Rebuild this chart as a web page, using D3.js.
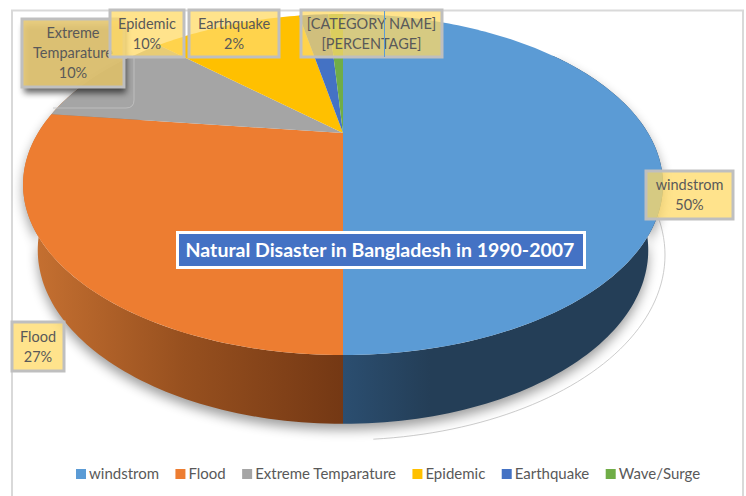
<!DOCTYPE html>
<html>
<head>
<meta charset="utf-8">
<script src="https://cdn.jsdelivr.net/npm/d3@7"></script>
<style>
html,body{margin:0;padding:0;background:#fff;}
svg{display:block;}
text{font-family:Lato,"Open Sans",sans-serif;}
</style>
</head>
<body>
<div id="canvas"></div>
<script>
var width = 746;
var height = 496;

var categories = ["windstrom","Flood","Extreme Temparature","Epidemic","Earthquake","Wave/Surge"];
var values = [50,27,10,10,2,1];
var colors = ["#5B9BD5","#ED7D31","#A5A5A5","#FFC000","#4472C4","#70AD47"];
var titleText = "Natural Disaster in Bangladesh in 1990-2007";

var labelLines = [
	["windstrom","50%"],
	["Flood","27%"],
	["Extreme","Temparature","10%"],
	["Epidemic","10%"],
	["Earthquake","2%"],
	["[CATEGORY NAME]","[PERCENTAGE]"]
];
// label boxes as placed in the picture: x, y, w, h
var labelBoxes = [
	[646,171,87,48],
	[12,322,52,49],
	[22,19,102,68],
	[110,10,74,47],
	[189,10,90,47],
	[301,10,141,47]
];

var svg = d3.select("#canvas").append("svg")
	.attr("width",width)
	.attr("height",height);

var defs = svg.append("defs");

var blur = defs.append("filter").attr("id","blur").attr("x","-20%").attr("y","-20%").attr("width","140%").attr("height","140%");
blur.append("feGaussianBlur").attr("stdDeviation",6);
var blur2 = defs.append("filter").attr("id","blur2").attr("x","-30%").attr("y","-30%").attr("width","160%").attr("height","160%");
blur2.append("feGaussianBlur").attr("stdDeviation",3);

function gradient(id,x1,x2,stops){
	var g = defs.append("linearGradient").attr("id",id)
		.attr("gradientUnits","userSpaceOnUse")
		.attr("x1",x1).attr("x2",x2).attr("y1",0).attr("y2",0);
	stops.forEach(function(s){
		g.append("stop").attr("offset",s[0]).attr("stop-color",s[1]);
	});
}
gradient("wallBlue",343,430,[[0,"#2B4E70"],[1,"#243E57"]]);
gradient("wallOrange",25,343,[[0,"#C87232"],[0.5,"#97501F"],[1,"#743814"]]);

// perspective of the pie plane: apex at (cx,cy), far edge shrinks
var cx = 343;
var k = 0.302;
var topFace = {cy:133, a:305, b:155};
var floorFace = {cy:197.5, a:291, b:158};

function project(face,t){
	var x = Math.sin(t), y = Math.cos(t), w = 1 + k*y;
	return [cx + face.a*x/w, face.cy - face.b*y/w];
}

var pie = d3.pie().sort(null).value(function(d){return d;});
var arcs = pie(values);
var line = d3.line();

function slicePath(d){
	var n = Math.max(2,Math.ceil((d.endAngle-d.startAngle)/0.02));
	var pts = d3.range(n+1).map(function(i){
		return project(topFace,d.startAngle+(d.endAngle-d.startAngle)*i/n);
	});
	return line([[cx,topFace.cy]].concat(pts)) + "Z";
}

// union of small quads between the top rim and the floor rim
function wallPath(t0,t1){
	var n = Math.ceil((t1-t0)/0.02), p = "";
	d3.range(n).forEach(function(i){
		var a = t0+(t1-t0)*i/n, b = t0+(t1-t0)*(i+1)/n;
		p += line([project(topFace,a),project(topFace,b),project(floorFace,b),project(floorFace,a)]) + "Z";
	});
	return p;
}

var rightWall = wallPath(Math.PI*0.3,Math.PI);
var leftWall = wallPath(Math.PI,Math.PI*1.7);

// frame
svg.append("rect")
	.attr("x",12).attr("y",10.5)
	.attr("width",731).attr("height",height)
	.attr("fill","#fff")
	.attr("stroke","#D9D9D9")
	.attr("stroke-width",2);

// thin outline left of the shadow
var outline = d3.range(0.4,0.98,0.01).map(function(f){
	var t = f*Math.PI;
	return [cx+322*Math.sin(t),255-185*Math.cos(t)];
});
svg.append("path")
	.attr("d",line(outline))
	.attr("fill","none")
	.attr("stroke","#BFBFBF")
	.attr("stroke-width",0.8);

// drop shadow of the pie
svg.append("path")
	.attr("d",rightWall+leftWall)
	.attr("transform","translate(0,6)")
	.attr("fill","#000")
	.attr("opacity",0.38)
	.attr("filter","url(#blur)");

svg.append("path").attr("d",rightWall).attr("fill","url(#wallBlue)");
svg.append("path").attr("d",leftWall).attr("fill","url(#wallOrange)");

svg.selectAll("path.slice")
	.data(arcs)
	.enter()
	.append("path")
	.attr("class","slice")
	.attr("d",slicePath)
	.attr("fill",function(d,i){return colors[i];});

// faint rounded corner left behind the Extreme label
svg.append("path")
	.attr("d","M134,57V100Q134,108 126,108H53")
	.attr("fill","none")
	.attr("stroke","#C4C4C4")
	.attr("stroke-width",0.8);

// data labels
var labels = svg.selectAll("g.label")
	.data(labelLines)
	.enter()
	.append("g")
	.attr("class","label");

labels.each(function(d,i){
	var g = d3.select(this), b = labelBoxes[i];
	if(i==2){
		g.append("rect")
			.attr("x",b[0]+2).attr("y",b[1]+6)
			.attr("width",b[2]).attr("height",b[3])
			.attr("fill","#000").attr("opacity",0.6)
			.attr("filter","url(#blur2)");
		g.append("rect")
			.attr("x",b[0]).attr("y",b[1])
			.attr("width",b[2]).attr("height",b[3])
			.attr("fill","#fff").attr("opacity",0.65);
	}
	g.append("rect")
		.attr("x",b[0]).attr("y",b[1])
		.attr("width",b[2]).attr("height",b[3])
		.attr("fill",i==2 ? "#E0BC55" : "#FFD966")
		.attr("fill-opacity",0.75)
		.attr("stroke","#BFBFBF")
		.attr("stroke-width",3);
	var lh = 20;
	var y0 = b[1]+b[3]/2-(d.length-1)*lh/2+5;
	g.selectAll("text")
		.data(d)
		.enter()
		.append("text")
		.attr("x",b[0]+b[2]/2)
		.attr("y",function(s,j){return y0+j*lh;})
		.attr("text-anchor","middle")
		.attr("font-size",14.5)
		.attr("fill","#595959")
		.text(function(s){return s;});
});

// stray blue cursor line in the last label
svg.append("line")
	.attr("x1",384.5).attr("x2",384.5)
	.attr("y1",11).attr("y2",57)
	.attr("stroke","#5B9BD5")
	.attr("stroke-width",1);

// title
svg.append("rect")
	.attr("x",177.5).attr("y",232.5)
	.attr("width",407).attr("height",35)
	.attr("fill","#4472C4")
	.attr("stroke","#fff")
	.attr("stroke-width",3);
svg.append("text")
	.attr("x",380).attr("y",257)
	.attr("text-anchor","middle")
	.attr("font-size",19.5)
	.attr("font-weight",700)
	.attr("fill","#fff")
	.text(titleText);

// legend, laid out from the measured text widths
var lx = 76;
categories.forEach(function(c,i){
	svg.append("rect")
		.attr("x",lx).attr("y",469)
		.attr("width",10).attr("height",10)
		.attr("fill",colors[i]);
	var t = svg.append("text")
		.attr("x",lx+13).attr("y",479)
		.attr("font-size",15)
		.attr("fill","#595959")
		.text(c);
	lx += 13 + t.node().getComputedTextLength() + 16.4;
});
</script>
</body>
</html>
